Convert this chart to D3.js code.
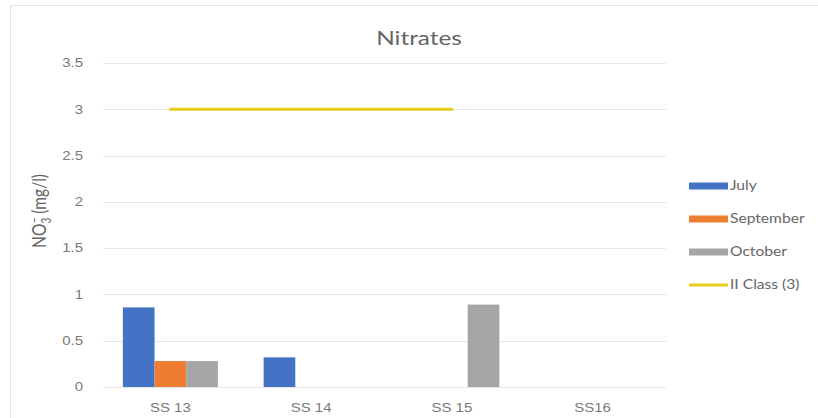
<!DOCTYPE html>
<html>
<head>
<meta charset="utf-8">
<script src="https://cdn.jsdelivr.net/npm/d3@7/dist/d3.min.js"></script>
<style>
  html, body { margin: 0; padding: 0; background: #fff; }
  svg { display: block; font-family: Lato, "Open Sans", "Liberation Sans", sans-serif; }
</style>
</head>
<body>
<svg id="chart" width="818" height="418"></svg>
<script>
// Sampling sites along the x axis
const sites = ["SS 13", "SS 14", "SS 15", "SS16"];
// Nitrate concentrations (mg/l) per month; null = no bar
const july = [0.86, 0.32, null, null];
const september = [0.28, null, null, null];
const october = [0.28, null, 0.89, null];
// Class II limit line, drawn over the first three sites
const classLimit = [3, 3, 3, null];
const yTicks = [0, 0.5, 1, 1.5, 2, 2.5, 3, 3.5];

const series = [
  { name: "July", values: july, color: "#4472c4" },
  { name: "September", values: september, color: "#ed7d31" },
  { name: "October", values: october, color: "#a5a5a5" }
];
const lineSeries = { name: "II Class (3)", values: classLimit, color: "#e8cc1c" };

// Text is drawn slightly wide, as in the exported chart
const STRETCH = 1.25;

const svg = d3.select("#chart");
const margin = { left: 100, right: 155, top: 63, bottom: 31 };
const W = 818, H = 418;

// Chart area frame
svg.append("path")
  .attr("d", `M10.5,418 V5.5 H818`)
  .attr("fill", "none")
  .attr("stroke", "#e4e4e4")
  .attr("stroke-width", 1);

const x = d3.scaleBand().domain(sites).range([margin.left, W - margin.right]).paddingInner(0).paddingOuter(0);
const y = d3.scaleLinear().domain([0, 3.5]).range([H - margin.bottom, margin.top]);
const inner = d3.scaleBand().domain(series.map(s => s.name)).range([0, x.bandwidth()]).paddingOuter(0.85 * 0.85).paddingInner(0);

// Horizontal gridlines
svg.append("g")
  .selectAll("line")
  .data(yTicks)
  .join("line")
  .attr("x1", margin.left + 3)
  .attr("x2", W - margin.right + 3)
  .attr("y1", d => Math.round(y(d)) + 0.5)
  .attr("y2", d => Math.round(y(d)) + 0.5)
  .attr("stroke", "#e6e6e6")
  .attr("stroke-width", 1);

// Y axis tick labels
const yAxis = d3.axisLeft(y).tickValues(yTicks).tickSize(0).tickPadding(0).tickFormat(d3.format("~g"));
const gy = svg.append("g").attr("transform", `translate(83,0)`).call(yAxis);
gy.select(".domain").remove();
gy.selectAll("text").attr("fill", "#7a7a7a").style("font-size", "12px")
  .attr("transform", `scale(${STRETCH},1)`);

// X axis category labels
const xAxis = d3.axisBottom(x).tickSize(0).tickPadding(0);
const gx = svg.append("g").attr("transform", `translate(0,${H - margin.bottom + 16})`).call(xAxis);
gx.select(".domain").remove();
gx.selectAll("text").attr("fill", "#7a7a7a").style("font-size", "12px")
  .attr("transform", `scale(${STRETCH},1)`);

// Grouped bars
const groups = svg.append("g")
  .selectAll("g")
  .data(series)
  .join("g")
  .attr("fill", s => s.color);
groups.selectAll("rect")
  .data(s => s.values.map((v, i) => ({ site: sites[i], v, name: s.name })).filter(d => d.v !== null))
  .join("rect")
  .attr("x", d => x(d.site) + inner(d.name))
  .attr("width", inner.bandwidth())
  .attr("y", d => y(d.v))
  .attr("height", d => y(0) - y(d.v));

// Class II limit line
const line = d3.line()
  .defined(d => d.v !== null)
  .x(d => x(d.site) + x.bandwidth() / 2)
  .y(d => y(d.v));
svg.append("path")
  .datum(lineSeries.values.map((v, i) => ({ site: sites[i], v })))
  .attr("d", line)
  .attr("fill", "none")
  .attr("stroke", lineSeries.color)
  .attr("stroke-width", 3)
  .attr("stroke-linecap", "round");

// Title
svg.append("text")
  .attr("transform", `translate(419,45) scale(${STRETCH},1)`)
  .attr("text-anchor", "middle")
  .attr("fill", "#666666")
  .style("font-size", "19.5px")
  .text("Nitrates");

// Y axis title: NO3- (mg/l)
const yt = svg.append("text")
  .attr("transform", `translate(46,211) rotate(-90) scale(1,${STRETCH})`)
  .attr("text-anchor", "middle")
  .attr("fill", "#666666")
  .style("font-size", "15.5px");
yt.append("tspan").text("NO");
yt.append("tspan").attr("dy", -6).attr("dx", 0.5).style("font-size", "10px").text("\u2212");
yt.append("tspan").attr("dy", 10).attr("dx", -6).style("font-size", "10px").text("3");
yt.append("tspan").attr("dy", -4).text(" (mg/l)");

// Legend
const legendItems = series.map(s => ({ name: s.name, color: s.color, kind: "bar" }))
  .concat([{ name: lineSeries.name, color: lineSeries.color, kind: "line" }]);
const legend = svg.append("g").attr("transform", "translate(689,186)");
const li = legend.selectAll("g")
  .data(legendItems)
  .join("g")
  .attr("transform", (d, i) => `translate(0,${i * 33})`);
li.append("rect")
  .attr("x", 0)
  .attr("width", 39)
  .attr("y", d => d.kind === "bar" ? -3.5 : -1.5)
  .attr("height", d => d.kind === "bar" ? 7 : 3)
  .attr("fill", d => d.color);
li.append("text")
  .attr("transform", `translate(41,0) scale(${STRETCH},1)`)
  .attr("dy", "0.35em")
  .attr("fill", "#666666")
  .style("font-size", "12.5px")
  .text(d => d.name);
</script>
</body>
</html>
